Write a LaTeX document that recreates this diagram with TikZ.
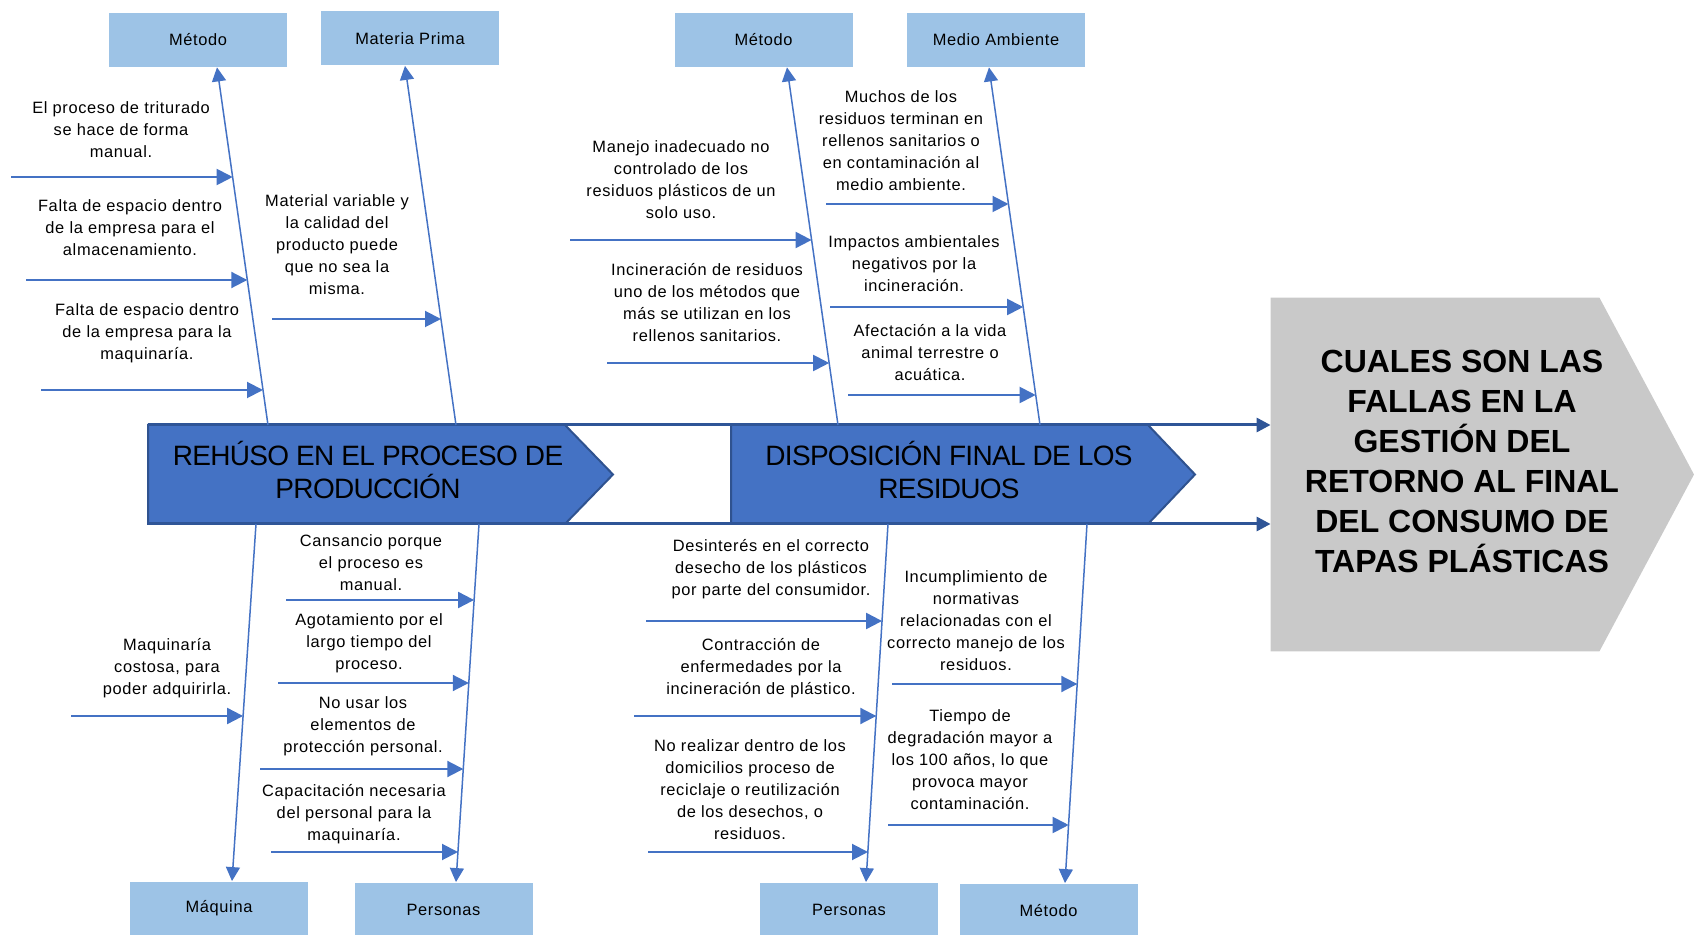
\documentclass[tikz,border=0pt]{standalone}
\usepackage{fontspec}
\setmainfont{Liberation Sans}
\newfontfamily\letrachica[LetterSpace=4]{Liberation Sans}
\newfontfamily\letratitulo[LetterSpace=-2.5]{Liberation Sans}
\usepackage{tikz}
\usetikzlibrary{
  arrows.meta,
  positioning,
  calc
}
\definecolor{azulcaja}{HTML}{9DC3E6}
\definecolor{azulhueso}{HTML}{4472C4}
\definecolor{azulborde}{HTML}{2F528F}
\definecolor{azulespina}{HTML}{2F5597}
\definecolor{griscabeza}{HTML}{C9C9C9}

\begin{document}
\begin{tikzpicture}[
    x=0.5pt,
    y=-0.5pt,
    caja/.style={
    fill=azulcaja,
    minimum width=89pt,
    minimum height=27pt,
    inner sep=0pt,
    font=\letrachica\fontsize{8.2}{11}\selectfont
    },
    causa/.style={
    align=center,
    inner sep=0pt,
    font=\letrachica\fontsize{8.2}{11}\selectfont
    },
    titulo/.style={
    align=center,
    inner sep=0pt,
    font=\letratitulo\fontsize{14}{16.5}\selectfont
    },
    etapa/.style={fill=azulhueso,draw=azulborde,line width=1pt},
    hueso/.style={-{Triangle[length=7pt,width=7pt]},azulhueso,line width=0.75pt},
    flecha/.style={-{Triangle[length=8pt,width=8pt]},azulhueso,line width=1pt},
    espina/.style={-{Triangle[length=7pt,width=7pt]},azulespina,line width=1.5pt}
    ]

    \useasboundingbox (0,0) rectangle (1694,935);

    \node[minimum width=164pt,minimum height=176.5pt,inner sep=0pt]
    (cabeza) at (1435,474.5) {};
    \fill[griscabeza] (cabeza.north west) -- (cabeza.north east) -- (1694,474.5)
    -- (cabeza.south east) -- (cabeza.south west) -- cycle;
    \node[align=center,inner sep=0pt,font=\bfseries\fontsize{16}{20}\selectfont]
    (pregunta) at (1462,461)
    {CUALES SON LAS\\FALLAS EN LA\\GESTIÓN DEL\\RETORNO AL FINAL\\DEL CONSUMO DE\\TAPAS PLÁSTICAS};

    \filldraw[etapa] (148,425) -- (565,425) -- (613,474.5) -- (565,524) -- (148,524) -- cycle;
    \filldraw[etapa] (731,425) -- (1148,425) -- (1195,474.5) -- (1148,524) -- (731,524) -- cycle;

    \node[titulo] (reuso) at (368,470)
    {REHÚSO EN EL PROCESO DE\\PRODUCCIÓN};
    \node[titulo] (disposicion) at (949,470)
    {DISPOSICIÓN FINAL DE LOS\\RESIDUOS};

    \coordinate (ini1) at (148,425);
    \coordinate (ini2) at (148,524);
    \draw[espina] (ini1) -- (ini1 -| cabeza.west);
    \draw[espina] (ini2) -- (ini2 -| cabeza.west);

    \node[caja] (metA) at (198,40) {Método};
    \node[caja] (materia) at (410,38.5) {Materia Prima};
    \node[caja] (metB) at (763.5,40) {Método};
    \node[caja] (medio) at (996,40) {Medio Ambiente};
    \node[caja] (maquina) at (219,908.5) {Máquina};
    \node[caja] (persA) at (443.5,909.5) {Personas};
    \node[caja] (persB) at (849,909.5) {Personas};
    \node[caja] (metC) at (1048.5,910.5) {Método};

    \coordinate (hA) at (268,425);
    \coordinate (hB) at (456,425);
    \coordinate (hC) at (838,425);
    \coordinate (hD) at (1040,425);
    \coordinate (hE) at (256,524);
    \coordinate (hF) at (479,524);
    \coordinate (hG) at (888,524);
    \coordinate (hH) at (1087,524);

    \draw[hueso] (hA) -- ($(metA.south)+(19,0)$);
    \draw[hueso] (hB) -- ($(materia.south)+(-5,0)$);
    \draw[hueso] (hC) -- ($(metB.south)+(23.5,0)$);
    \draw[hueso] (hD) -- ($(medio.south)+(-7,0)$);
    \draw[hueso] (hE) -- ($(maquina.north)+(13,0)$);
    \draw[hueso] (hF) -- ($(persA.north)+(12.5,0)$);
    \draw[hueso] (hG) -- ($(persB.north)+(17,0)$);
    \draw[hueso] (hH) -- ($(metC.north)+(16.5,0)$);

    \node[causa] (a1) at (121,130)
    {El proceso de triturado\\se hace de forma\\manual.};
    \node[causa] (a2) at (130,228)
    {Falta de espacio dentro\\de la empresa para el\\almacenamiento.};
    \node[causa] (a3) at (147,333)
    {Falta de espacio dentro\\de la empresa para la\\maquinaría.};
    \node[causa] (b1) at (337,245)
    {Material variable y\\la calidad del\\producto puede\\que no sea la\\misma.};
    \node[causa] (c1) at (681,180)
    {Manejo inadecuado no\\controlado de los\\residuos plásticos de un\\solo uso.};
    \node[causa] (c2) at (707,303)
    {Incineración de residuos\\uno de los métodos que\\más se utilizan en los\\rellenos sanitarios.};
    \node[causa] (d1) at (901,141)
    {Muchos de los\\residuos terminan en\\rellenos sanitarios o\\en contaminación al\\medio ambiente.};
    \node[causa] (d2) at (914,264)
    {Impactos ambientales\\negativos por la\\incineración.};
    \node[causa] (d3) at (930,353)
    {Afectación a la vida\\animal terrestre o\\acuática.};
    \node[causa] (e1) at (167,668)
    {Maquinaría\\costosa, para\\poder adquirirla.};
    \node[causa] (f1) at (371,563)
    {Cansancio porque\\el proceso es\\manual.};
    \node[causa] (f2) at (369,643)
    {Agotamiento por el\\largo tiempo del\\proceso.};
    \node[causa] (f3) at (363,726)
    {No usar los\\elementos de\\protección personal.};
    \node[causa] (f4) at (354,814)
    {Capacitación necesaria\\del personal para la\\maquinaría.};
    \node[causa] (g1) at (771,569)
    {Desinterés en el correcto\\desecho de los plásticos\\por parte del consumidor.};
    \node[causa] (g2) at (761,668)
    {Contracción de\\enfermedades por la\\incineración de plástico.};
    \node[causa] (g3) at (750,790)
    {No realizar dentro de los\\domicilios proceso de\\reciclaje o reutilización\\de los desechos, o\\residuos.};
    \node[causa] (h1) at (976,621)
    {Incumplimiento de\\normativas\\relacionadas con el\\correcto manejo de los\\residuos.};
    \node[causa] (h2) at (970,760)
    {Tiempo de\\degradación mayor a\\los 100 años, lo que\\provoca mayor\\contaminación.};

    \coordinate (sa1) at (11,177);   \coordinate (fa1) at (232.7,177);
    \coordinate (sa2) at (26,280);   \coordinate (fa2) at (247.3,280);
    \coordinate (sa3) at (41,390);   \coordinate (fa3) at (263,390);
    \coordinate (sb1) at (272,319);  \coordinate (fb1) at (441,319);
    \coordinate (sc1) at (570,240);  \coordinate (fc1) at (811.6,240);
    \coordinate (sc2) at (607,363);  \coordinate (fc2) at (829.2,363);
    \coordinate (sd1) at (826,204);  \coordinate (fd1) at (1008.5,204);
    \coordinate (sd2) at (830,307);  \coordinate (fd2) at (1023.2,307);
    \coordinate (sd3) at (848,395);  \coordinate (fd3) at (1035.7,395);
    \coordinate (se1) at (71,716);   \coordinate (fe1) at (243.1,716);
    \coordinate (sf1) at (286,600);  \coordinate (ff1) at (474.1,600);
    \coordinate (sf2) at (278,683);  \coordinate (ff2) at (468.8,683);
    \coordinate (sf3) at (260,769);  \coordinate (ff3) at (463.3,769);
    \coordinate (sf4) at (271,852);  \coordinate (ff4) at (458,852);
    \coordinate (sg1) at (646,621);  \coordinate (fg1) at (882.1,621);
    \coordinate (sg2) at (634,716);  \coordinate (fg2) at (876.3,716);
    \coordinate (sg3) at (648,852);  \coordinate (fg3) at (868,852);
    \coordinate (sh1) at (892,684);  \coordinate (fh1) at (1077.3,684);
    \coordinate (sh2) at (888,825);  \coordinate (fh2) at (1068.7,825);

    \draw[flecha] (sa1) -- (fa1);
    \draw[flecha] (sa2) -- (fa2);
    \draw[flecha] (sa3) -- (fa3);
    \draw[flecha] (sb1) -- (fb1);
    \draw[flecha] (sc1) -- (fc1);
    \draw[flecha] (sc2) -- (fc2);
    \draw[flecha] (sd1) -- (fd1);
    \draw[flecha] (sd2) -- (fd2);
    \draw[flecha] (sd3) -- (fd3);
    \draw[flecha] (se1) -- (fe1);
    \draw[flecha] (sf1) -- (ff1);
    \draw[flecha] (sf2) -- (ff2);
    \draw[flecha] (sf3) -- (ff3);
    \draw[flecha] (sf4) -- (ff4);
    \draw[flecha] (sg1) -- (fg1);
    \draw[flecha] (sg2) -- (fg2);
    \draw[flecha] (sg3) -- (fg3);
    \draw[flecha] (sh1) -- (fh1);
    \draw[flecha] (sh2) -- (fh2);

    \end{tikzpicture}
\end{document}
